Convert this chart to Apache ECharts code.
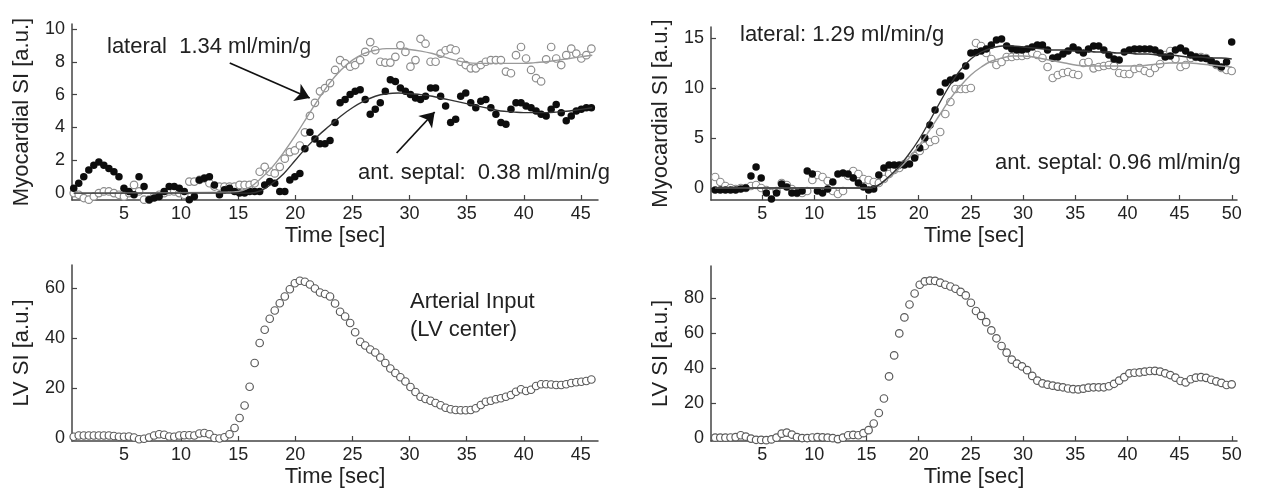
<!DOCTYPE html>
<html>
<head>
<meta charset="utf-8">
<script src="https://cdn.jsdelivr.net/npm/echarts@6/dist/echarts.min.js"></script>
<style>
  html, body { margin: 0; background: #fff; }
  #chart { width: 1268px; height: 493px; }
</style>
</head>
<body>
<div id="chart"></div>
<script>
// scan timing (s) - left study and right study
var scanStartA = 0.6, scanStepA = 0.44;
var scanStartB = 0.5, scanStepB = 0.49;

// left study, myocardial signal (open = lateral, filled = ant. septal)
var latA = [0.0,-0.1,-0.3,-0.4,-0.2,0.0,0.1,0.1,0.0,-0.1,
  -0.2,0.0,0.5,0.1,-0.4,-0.4,-0.2,-0.1,0.0,0.1,
  0.1,0.0,-0.1,0.7,0.7,0.8,0.9,0.6,0.4,0.4,
  0.4,0.4,0.4,0.5,0.5,0.5,0.6,1.3,1.6,1.3,
  1.2,1.6,2.1,2.5,2.6,2.9,3.7,4.7,5.5,6.2,
  6.4,6.7,7.5,8.1,7.9,7.7,7.8,8.1,8.6,9.2,
  8.7,8.0,7.95,7.95,8.3,9.0,8.6,7.7,8.1,9.4,
  9.1,8.0,8.0,8.5,8.7,8.8,8.7,8.0,7.8,7.6,
  7.6,7.8,8.0,8.1,8.1,8.1,7.4,7.3,8.4,8.9,
  8.2,7.5,7.0,6.8,8.15,8.9,8.2,7.8,8.4,8.8,
  8.5,8.2,8.4,8.8];
var septA = [0.3,0.6,1.0,1.4,1.7,1.9,1.7,1.5,1.3,1.0,
  0.3,0.1,-0.1,1.0,0.4,-0.4,-0.3,-0.2,0.1,0.4,
  0.4,0.3,0.1,-0.4,-0.2,0.8,0.9,1.0,0.5,-0.1,
  0.2,0.3,0.1,0.0,0.0,0.1,0.1,0.1,0.5,0.7,
  0.6,0.1,0.1,0.8,1.0,1.2,2.7,3.7,3.3,3.0,
  3.0,3.2,4.3,5.5,5.7,6.0,6.2,6.3,5.7,4.8,
  5.1,5.5,6.2,6.9,6.8,6.4,6.2,6.0,5.8,5.7,
  5.9,6.4,6.4,5.9,5.3,4.3,4.5,5.9,6.1,5.5,
  5.2,5.6,5.7,5.2,4.8,4.3,4.2,5.1,5.5,5.5,
  5.3,5.2,5.0,4.8,4.7,5.1,5.4,4.9,4.4,4.7,
  5.0,5.1,5.2,5.2];
// left study, LV blood pool
var lvA = [0.5,1.0,1.0,1.0,1.0,1.0,1.0,1.0,0.8,0.5,
  0.5,0.6,0.2,-0.5,-0.3,0.2,1.0,1.5,1.3,0.6,
  0.5,1.0,1.1,1.1,1.0,1.8,2.0,1.5,0.0,-0.2,
  0.3,1.5,4.0,8,13,20.5,30,38,43.3,47.7,
  51,53.9,56.6,59.5,61.9,62.9,62.5,61.4,59.8,58.2,
  57.6,56.6,53.8,50.5,48.6,46,42.3,38.5,37,35.4,
  34.2,32.2,30,27.8,26,24.3,22.6,20.4,18.4,16.5,
  15.6,14.9,14.0,13.1,12.1,11.5,11.2,11.1,11.1,11.2,
  11.9,13.2,14.5,14.9,15.5,15.9,16.5,17.2,18.5,19.5,
  18.8,19.3,20.8,21.5,21.5,21.4,21.2,21.2,21.5,22,
  22.3,22.5,22.8,23.4];

// right study
var latB = [1.1,0.6,0.2,0.0,-0.1,0.0,0.0,0.2,0.3,0.0,
  -0.2,-0.5,-0.3,0.5,0.3,-0.1,-0.5,-0.5,-0.3,0.8,
  1.3,1.1,0.7,-0.3,-0.6,-0.3,1.2,1.7,1.4,0.9,
  0.8,0.6,0.5,0.9,1.4,1.8,2.0,2.4,2.8,3.2,
  3.7,4.2,4.6,4.8,5.6,7.4,8.6,9.9,9.9,9.9,
  10.0,14.5,14.2,13.5,12.9,12.3,12.6,13.1,13.1,13.2,
  13.2,13.3,13.5,13.3,13.0,12.1,11.0,11.3,11.5,11.6,
  11.4,11.3,12.5,12.6,11.97,12.1,12.2,12.3,12.2,11.5,
  11.4,11.4,11.9,12.0,11.7,11.5,12.0,12.4,13.3,13.7,
  12.9,12.1,12.3,13.0,13.1,13.1,13.0,12.6,12.3,12.0,
  11.8,11.7];
var septB = [-0.2,-0.2,-0.2,-0.2,-0.2,-0.1,0.0,1.2,2.1,1.0,
  -0.5,-1.1,-0.5,0.4,0.1,-0.5,-0.5,-0.3,1.7,1.4,
  -0.3,-0.5,-0.1,0.6,1.4,1.5,1.4,1.0,0.5,0.1,
  -0.2,-0.1,1.3,2.0,2.3,2.3,2.3,2.3,2.4,3.0,
  4.0,5.0,6.3,7.8,9.6,10.5,10.8,11.0,11.2,12.2,
  13.5,13.55,13.7,13.9,14.3,14.8,14.9,14.2,13.9,13.8,
  13.8,13.9,14.1,14.3,14.3,13.8,13.0,13.1,13.4,13.7,
  14.1,13.8,13.5,13.9,14.2,14.2,13.8,13.3,12.9,12.8,
  13.6,13.8,13.9,13.9,13.9,13.9,13.8,13.5,13.1,13.2,
  13.8,14.0,13.7,13.3,13.1,13.0,12.95,12.7,12.4,12.1,
  12.6,14.6];
var lvB = [0.2,0.2,0.2,0.3,0.5,1.6,0.8,-0.3,-1.0,-1.1,
  -1.2,-0.8,0.2,2.5,3.1,2.0,0.5,0.0,0.0,0.3,
  0.5,0.4,0.2,-0.1,-0.6,0.2,1.6,1.8,1.6,2.8,
  4.5,8.3,14.3,22.6,35.2,47.2,59.8,68.9,76.3,82.6,
  87.6,89.5,89.9,89.8,88.8,87.6,86.6,85.3,83.5,81.5,
  77.3,72.6,69.8,66.2,61.5,57,52.6,48.8,44.8,42.5,
  40.9,38.8,35.5,32.8,31.2,30.5,29.9,29.4,29.0,28.3,
  27.9,27.8,28.2,28.8,29,29,29,29.6,31,32.8,
  34.8,37,37.3,37.5,37.9,38.3,38.4,37.9,37,36,
  34.5,32.6,31.8,33.6,34.5,34.8,34.4,33.3,32.4,31.5,
  30.3,30.7];

// model fits
var fitTimesA = [0.6,14,15,16,17,18,19,20,21,22,23,24,25,26,27,28,29,30,31,32,33,34,35,36,37,38,39,40,41,42,43,44,45,46];
var fitLatA = [0,0.05,0.1,0.35,0.9,1.6,2.5,3.5,4.6,5.7,6.7,7.5,8.1,8.5,8.7,8.8,8.8,8.75,8.65,8.5,8.3,8.1,7.95,7.9,7.9,7.9,7.9,7.9,7.95,8.0,8.1,8.2,8.3,8.4];
var fitSeptA = [0,0,0,0,0.15,0.6,1.2,2.0,2.8,3.5,4.1,4.7,5.2,5.6,5.9,6.05,6.1,6.05,6.0,5.9,5.75,5.6,5.45,5.3,5.15,5.0,4.95,4.9,4.9,4.9,4.95,5.0,5.1,5.2];
var fitTimesB = [0.5,15,16,17,18,19,20,21,22,23,24,25,26,27,28,29,30,31,32,33,34,35,36,37,38,39,40,41,42,43,44,45,46,47,48,49,50];
var fitLatB = [0,0,0.2,0.9,1.8,2.9,4.2,5.7,7.3,8.9,10.2,11.3,12.1,12.7,13.0,13.2,13.2,13.1,12.9,12.7,12.5,12.3,12.2,12.2,12.2,12.2,12.2,12.2,12.3,12.4,12.5,12.5,12.5,12.4,12.3,12.2,12.1];
var fitSeptB = [0,0,0.2,1.0,2.0,3.3,4.8,6.6,8.5,10.3,11.8,12.9,13.6,14.0,14.2,14.2,14.1,14.0,13.9,13.8,13.8,13.7,13.7,13.6,13.6,13.5,13.5,13.4,13.4,13.3,13.3,13.2,13.1,13.1,13.0,13.0,12.9];

// tick labels
var timeTicksA = [5,10,15,20,25,30,35,40,45];
var timeTicksB = [5,10,15,20,25,30,35,40,45,50];
var myoTicksA = [0,2,4,6,8,10];
var myoTicksB = [0,5,10,15];
var lvTicksA = [0,20,40,60];
var lvTicksB = [0,20,40,60,80];

var FONT = 'Liberation Sans, Arial, sans-serif';
var INK = '#222';
var AXIS = '#444';

function scanTimes(start, step, n) {
  var out = [];
  for (var i = 0; i < n; i++) out.push(+(start + i * step).toFixed(2));
  return out;
}
function zip(ts, vs) {
  return vs.map(function (v, i) { return [ts[i], v]; });
}

var timesA = scanTimes(scanStartA, scanStepA, latA.length);
var timesB = scanTimes(scanStartB, scanStepB, latB.length);

function xAxis(grid, min, max, ticks) {
  return {
    type: 'value', gridIndex: grid, min: min, max: max,
    name: 'Time [sec]', nameLocation: 'middle', nameGap: 25,
    nameTextStyle: { fontSize: 22, color: INK, fontFamily: FONT },
    axisLine: { show: true, onZero: false, lineStyle: { color: AXIS, width: 1.5 } },
    axisTick: { show: true, inside: true, length: 5, customValues: ticks, lineStyle: { color: AXIS, width: 1.2 } },
    axisLabel: { customValues: ticks, fontSize: 18, color: INK, fontFamily: FONT, margin: 5 },
    splitLine: { show: false }
  };
}
function yAxis(grid, min, max, ticks, name) {
  return {
    type: 'value', gridIndex: grid, min: min, max: max,
    name: name, nameLocation: 'middle', nameGap: 39,
    nameTextStyle: { fontSize: 22, color: INK, fontFamily: FONT },
    axisLine: { show: true, onZero: false, lineStyle: { color: AXIS, width: 1.5 } },
    axisTick: { show: true, inside: true, length: 5, customValues: ticks, lineStyle: { color: AXIS, width: 1.2 } },
    axisLabel: { customValues: ticks, fontSize: 18, color: INK, fontFamily: FONT, margin: 7 },
    splitLine: { show: false }
  };
}

function openDots(grid, data, stroke) {
  return {
    type: 'scatter', xAxisIndex: grid, yAxisIndex: grid, data: data,
    symbol: 'circle', symbolSize: 7.5,
    itemStyle: { color: '#fff', borderColor: stroke, borderWidth: 1.2, opacity: 1 }
  };
}
function filledDots(grid, data) {
  return {
    type: 'scatter', xAxisIndex: grid, yAxisIndex: grid, data: data,
    symbol: 'circle', symbolSize: 7.5,
    itemStyle: { color: '#0d0d0d', opacity: 1 }
  };
}
function fitLine(grid, data, color) {
  return {
    type: 'line', xAxisIndex: grid, yAxisIndex: grid, data: data,
    smooth: 0.4, showSymbol: false, symbol: 'none',
    lineStyle: { color: color, width: 1.4 }
  };
}

var arrowMarks = {
  silent: true, symbol: ['none', 'arrow'], symbolSize: 14,
  label: { show: false },
  lineStyle: { color: '#111', width: 1.7, type: 'solid', opacity: 1 },
  itemStyle: { color: '#111' },
  data: [
    [{ coord: [14.26, 7.93] }, { coord: [21.26, 5.79] }],
    [{ coord: [28.87, 2.44] }, { coord: [32.2, 4.94] }]
  ]
};

var septSeriesA = filledDots(0, zip(timesA, septA));
septSeriesA.markLine = arrowMarks;

var chart = echarts.init(document.getElementById('chart'), null, { renderer: 'canvas' });

var option = {
  animation: false,
  backgroundColor: '#fff',
  textStyle: { fontFamily: FONT },
  grid: [
    { left: 72, top: 24, width: 526, height: 176, outerBoundsMode: 'none' },
    { left: 711, top: 27, width: 526, height: 173, outerBoundsMode: 'none' },
    { left: 72, top: 265, width: 526, height: 176, outerBoundsMode: 'none' },
    { left: 711, top: 266, width: 526, height: 175, outerBoundsMode: 'none' }
  ],
  xAxis: [
    xAxis(0, 0.45, 46.5, timeTicksA),
    xAxis(1, 0.1, 50.5, timeTicksB),
    xAxis(2, 0.45, 46.5, timeTicksA),
    xAxis(3, 0.1, 50.5, timeTicksB)
  ],
  yAxis: [
    yAxis(0, -0.42, 10.3, myoTicksA, 'Myocardial SI [a.u.]'),
    yAxis(1, -1.2, 16.1, myoTicksB, 'Myocardial SI [a.u.]'),
    yAxis(2, -1.2, 69.2, lvTicksA, 'LV SI [a.u.]'),
    yAxis(3, -1.7, 98.3, lvTicksB, 'LV SI [a.u.]')
  ],
  series: [
    fitLine(0, zip(fitTimesA, fitLatA), '#9a9a9a'),
    fitLine(0, zip(fitTimesA, fitSeptA), '#333'),
    openDots(0, zip(timesA, latA), '#8c8c8c'),
    septSeriesA,

    fitLine(1, zip(fitTimesB, fitLatB), '#9a9a9a'),
    fitLine(1, zip(fitTimesB, fitSeptB), '#333'),
    openDots(1, zip(timesB, latB), '#8c8c8c'),
    filledDots(1, zip(timesB, septB)),

    openDots(2, zip(timesA, lvA), '#5a5a5a'),
    openDots(3, zip(timesB, lvB), '#5a5a5a')
  ],
  graphic: [
    { type: 'text', style: { x: 107, y: 47, text: 'lateral  1.34 ml/min/g', fontSize: 22, fill: INK, fontFamily: FONT, verticalAlign: 'middle' } },
    { type: 'text', style: { x: 358, y: 173, text: 'ant. septal:  0.38 ml/min/g', fontSize: 22, fill: INK, fontFamily: FONT, verticalAlign: 'middle' } },
    { type: 'text', style: { x: 740, y: 35, text: 'lateral: 1.29 ml/min/g', fontSize: 22, fill: INK, fontFamily: FONT, verticalAlign: 'middle' } },
    { type: 'text', style: { x: 995, y: 163, text: 'ant. septal: 0.96 ml/min/g', fontSize: 22, fill: INK, fontFamily: FONT, verticalAlign: 'middle' } },
    { type: 'text', style: { x: 410, y: 302, text: 'Arterial Input', fontSize: 22, fill: INK, fontFamily: FONT, verticalAlign: 'middle' } },
    { type: 'text', style: { x: 410, y: 330, text: '(LV center)', fontSize: 22, fill: INK, fontFamily: FONT, verticalAlign: 'middle' } }
  ]
};

chart.setOption(option);
window.addEventListener('resize', chart.resize);
</script>
</body>
</html>
